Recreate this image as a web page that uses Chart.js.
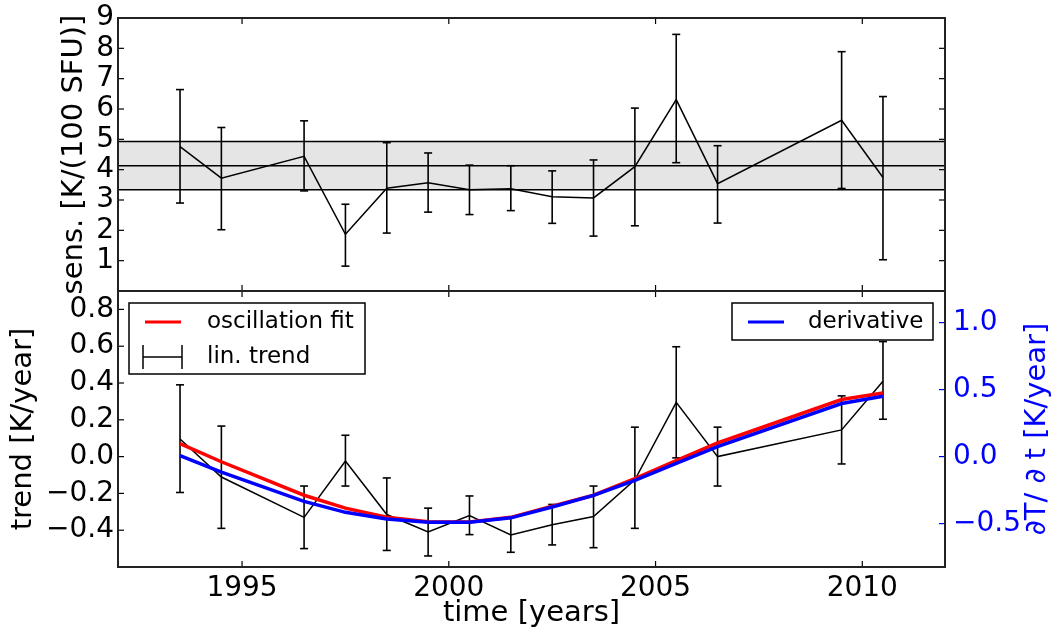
<!DOCTYPE html>
<html>
<head>
<meta charset="utf-8">
<script src="https://cdn.jsdelivr.net/npm/chart.js@4.4.0/dist/chart.umd.min.js"></script>
<style>
  body { margin: 0; background: #fff; }
  #wrap { position: relative; width: 1054px; height: 635px; }
  canvas { position: absolute; left: 0; top: 0; }
</style>
</head>
<body>
<div id="wrap">
  <canvas id="sensChart" width="1054" height="635"></canvas>
  <canvas id="trendChart" width="1054" height="635"></canvas>
</div>
<script>
// data
const years = [1993.5, 1994.5, 1996.5, 1997.5, 1998.5, 1999.5, 2000.5, 2001.5, 2002.5, 2003.5, 2004.5, 2005.5, 2006.5, 2009.5, 2010.5];

const sens     = [4.76, 3.72, 4.44, 1.87, 3.39, 3.57, 3.34, 3.37, 3.11, 3.07, 4.10, 6.31, 3.54, 5.63, 3.74];
const sensLow  = [2.90, 2.02, 3.30, 0.82, 1.91, 2.60, 2.52, 2.65, 2.23, 1.81, 2.15, 4.23, 2.24, 3.38, 1.03];
const sensHigh = [6.64, 5.39, 5.61, 2.86, 4.89, 4.55, 4.15, 4.13, 3.96, 4.32, 6.03, 8.46, 4.79, 7.89, 6.41];
const sensBand = [3.34, 4.13, 4.93]; // lower, mean, upper

const trend     = [0.096, -0.111, -0.33, -0.024, -0.315, -0.41, -0.32, -0.426, -0.37, -0.326, -0.126, 0.295, 0.0, 0.145, 0.41];
const trendLow  = [-0.195, -0.39, -0.50, -0.16, -0.51, -0.54, -0.424, -0.52, -0.48, -0.495, -0.39, -0.007, -0.16, -0.04, 0.203];
const trendHigh = [0.39, 0.166, -0.16, 0.116, -0.116, -0.28, -0.214, -0.33, -0.26, -0.16, 0.16, 0.597, 0.16, 0.33, 0.625];

const oscFit = [0.07, -0.028, -0.21, -0.28, -0.33, -0.354, -0.355, -0.33, -0.27, -0.21, -0.12, -0.022, 0.074, 0.31, 0.346];
const deriv  = [0.007, -0.116, -0.334, -0.416, -0.465, -0.49, -0.49, -0.457, -0.376, -0.29, -0.178, -0.05, 0.074, 0.396, 0.45];

const yearTicks  = [1995, 2000, 2005, 2010];
const sensTicks  = [1, 2, 3, 4, 5, 6, 7, 8, 9];
const trendTicks = [-0.4, -0.2, 0.0, 0.2, 0.4, 0.6, 0.8];
const derivTicks = [-0.5, 0.0, 0.5, 1.0];

const FONT = 'DejaVu Sans';
Chart.defaults.font.family = FONT;
Chart.defaults.color = '#000';

const pts = (xs, ys) => xs.map((x, i) => ({ x: x, y: ys[i] }));
const flat = (v) => [{ x: 1992, y: v }, { x: 2012, y: v }];
const fmt = (v) => (v < -1e-9 ? '\u2212' : '') + Math.abs(v).toFixed(1);
const setTicks = (arr) => (scale) => { scale.ticks = arr.map(v => ({ value: v })); };

function seg(ctx, x1, y1, x2, y2) {
  ctx.beginPath();
  ctx.moveTo(x1, y1);
  ctx.lineTo(x2, y2);
  ctx.stroke();
}

// frame + inward ticks like the original
const frameTicks = {
  id: 'frameTicks',
  afterDraw(chart, args, opts) {
    const { ctx, chartArea: a, scales } = chart;
    const tl = 6;
    ctx.save();
    ctx.lineWidth = 1.2;
    ctx.strokeStyle = '#000';
    yearTicks.forEach(v => {
      const px = scales.x.getPixelForValue(v);
      seg(ctx, px, a.top, px, a.top + tl);
      seg(ctx, px, a.bottom, px, a.bottom - tl);
    });
    scales.y.ticks.forEach(t => {
      const py = scales.y.getPixelForValue(t.value);
      seg(ctx, a.left, py, a.left + tl, py);
      if (opts.mirror) seg(ctx, a.right, py, a.right - tl, py);
    });
    if (scales.y2) {
      ctx.strokeStyle = '#0000ff';
      scales.y2.ticks.forEach(t => {
        const py = scales.y2.getPixelForValue(t.value);
        seg(ctx, a.right, py, a.right - tl, py);
      });
    }
    ctx.lineWidth = 2;
    ctx.strokeStyle = '#222';
    ctx.strokeRect(a.left, a.top, a.right - a.left, a.bottom - a.top);
    ctx.restore();
  }
};

// vertical error bars with caps, drawn right after the dataset they belong to
const errorBars = {
  id: 'errorBars',
  afterDatasetDraw(chart, args, opts) {
    if (args.index !== opts.dataset) return;
    const { ctx, scales } = chart;
    ctx.save();
    ctx.lineWidth = 1.6;
    ctx.strokeStyle = '#000';
    opts.x.forEach((xv, i) => {
      const px = scales.x.getPixelForValue(xv);
      const lo = scales.y.getPixelForValue(opts.low[i]);
      const hi = scales.y.getPixelForValue(opts.high[i]);
      seg(ctx, px, lo, px, hi);
      seg(ctx, px - 4, lo, px + 4, lo);
      seg(ctx, px - 4, hi, px + 4, hi);
    });
    ctx.restore();
  }
};

// legends inside the lower panel + right axis label
const lowerExtras = {
  id: 'lowerExtras',
  afterDraw(chart) {
    const { ctx } = chart;
    ctx.save();
    ctx.lineWidth = 1.5;
    ctx.strokeStyle = '#000';
    ctx.fillStyle = '#fff';
    ctx.font = '23px ' + FONT;
    ctx.textBaseline = 'middle';

    ctx.fillRect(129, 303, 236, 71);
    ctx.strokeRect(129, 303, 236, 71);
    ctx.lineWidth = 3;
    ctx.strokeStyle = '#ff0000';
    seg(ctx, 145, 322, 181, 322);
    ctx.lineWidth = 1.5;
    ctx.strokeStyle = '#000';
    seg(ctx, 143, 357, 182, 357);
    seg(ctx, 143, 345, 143, 369);
    seg(ctx, 182, 345, 182, 369);
    ctx.fillStyle = '#000';
    ctx.fillText('oscillation fit', 207, 322);
    ctx.fillText('lin. trend', 207, 357);

    ctx.fillStyle = '#fff';
    ctx.fillRect(732, 303, 201, 37);
    ctx.strokeRect(732, 303, 201, 37);
    ctx.lineWidth = 3;
    ctx.strokeStyle = '#0000ff';
    seg(ctx, 748, 322, 784, 322);
    ctx.fillStyle = '#000';
    ctx.fillText('derivative', 808, 322);

    ctx.translate(1037, 429);
    ctx.rotate(-Math.PI / 2);
    ctx.textAlign = 'center';
    ctx.fillStyle = '#0000ff';
    ctx.font = '29px ' + FONT;
    ctx.fillText('\u2202T/ \u2202 t [K/year]', 0, 0);
    ctx.restore();
  }
};

// upper panel: sensitivity
new Chart(document.getElementById('sensChart'), {
  type: 'line',
  data: {
    datasets: [
      {
        data: pts(years, sens),
        borderColor: '#000', borderWidth: 1.5, pointRadius: 0, tension: 0, fill: false, order: 0
      },
      {
        data: flat(sensBand[1]),
        borderColor: '#000', borderWidth: 1.5, pointRadius: 0, fill: false, order: 1
      },
      {
        data: flat(sensBand[0]),
        borderColor: '#000', borderWidth: 1.5, pointRadius: 0, fill: false, order: 2
      },
      {
        data: flat(sensBand[2]),
        borderColor: '#000', borderWidth: 1.5, pointRadius: 0,
        fill: '-1', backgroundColor: '#e5e5e5', order: 3
      }
    ]
  },
  options: {
    responsive: false,
    animation: false,
    layout: { padding: { top: 15, right: 109, bottom: 344, left: 0 } },
    plugins: {
      legend: { display: false },
      tooltip: { enabled: false },
      frameTicks: { mirror: true },
      errorBars: { dataset: 0, x: years, low: sensLow, high: sensHigh }
    },
    scales: {
      x: { type: 'linear', display: false, min: 1992, max: 2012, afterBuildTicks: setTicks(yearTicks) },
      y: {
        min: 0, max: 9,
        afterBuildTicks: setTicks(sensTicks),
        afterFit: (s) => { s.width = 118; },
        grid: { display: false, drawTicks: false },
        border: { display: false },
        ticks: { font: { size: 28, lineHeight: 1 }, padding: 4, callback: (v) => String(v) },
        title: { display: true, text: 'sens. [K/(100 SFU)]', font: { size: 29 }, padding: { top: 57, bottom: 0 } }
      }
    }
  },
  plugins: [frameTicks, errorBars]
});

// lower panel: trend, oscillation fit, derivative
new Chart(document.getElementById('trendChart'), {
  type: 'line',
  data: {
    datasets: [
      {
        label: 'lin. trend', data: pts(years, trend), yAxisID: 'y',
        borderColor: '#000', borderWidth: 1.5, pointRadius: 0, tension: 0, order: 2
      },
      {
        label: 'oscillation fit', data: pts(years, oscFit), yAxisID: 'y',
        borderColor: '#ff0000', borderWidth: 3.5, pointRadius: 0, tension: 0, order: 1
      },
      {
        label: 'derivative', data: pts(years, deriv), yAxisID: 'y2',
        borderColor: '#0000ff', borderWidth: 3.5, pointRadius: 0, tension: 0, order: 0
      }
    ]
  },
  options: {
    responsive: false,
    animation: false,
    layout: { padding: { top: 291, right: 0, bottom: 0, left: 0 } },
    plugins: {
      legend: { display: false },
      tooltip: { enabled: false },
      frameTicks: { mirror: false },
      errorBars: { dataset: 0, x: years, low: trendLow, high: trendHigh }
    },
    scales: {
      x: {
        type: 'linear', min: 1992, max: 2012,
        afterBuildTicks: setTicks(yearTicks),
        afterFit: (s) => { s.height = 68; },
        grid: { display: false, drawTicks: false },
        border: { display: false },
        ticks: { font: { size: 28 }, padding: 5, maxRotation: 0, callback: (v) => String(v) },
        title: { display: true, text: 'time [years]', font: { size: 29 }, padding: { top: 0, bottom: 4 } }
      },
      y: {
        position: 'left', min: -0.6, max: 0.9,
        afterBuildTicks: setTicks(trendTicks),
        afterFit: (s) => { s.width = 118; },
        grid: { display: false, drawTicks: false },
        border: { display: false },
        ticks: { font: { size: 28, lineHeight: 1 }, padding: 4, callback: fmt },
        title: { display: true, text: 'trend [K/year]', font: { size: 29 }, padding: { top: 6, bottom: 0 } }
      },
      y2: {
        position: 'right', min: -0.824, max: 1.236,
        afterBuildTicks: setTicks(derivTicks),
        afterFit: (s) => { s.width = 109; },
        grid: { display: false, drawTicks: false },
        border: { display: false },
        ticks: { font: { size: 28, lineHeight: 1 }, padding: 8, color: '#0000ff', callback: fmt }
      }
    }
  },
  plugins: [frameTicks, errorBars, lowerExtras]
});
</script>
</body>
</html>
